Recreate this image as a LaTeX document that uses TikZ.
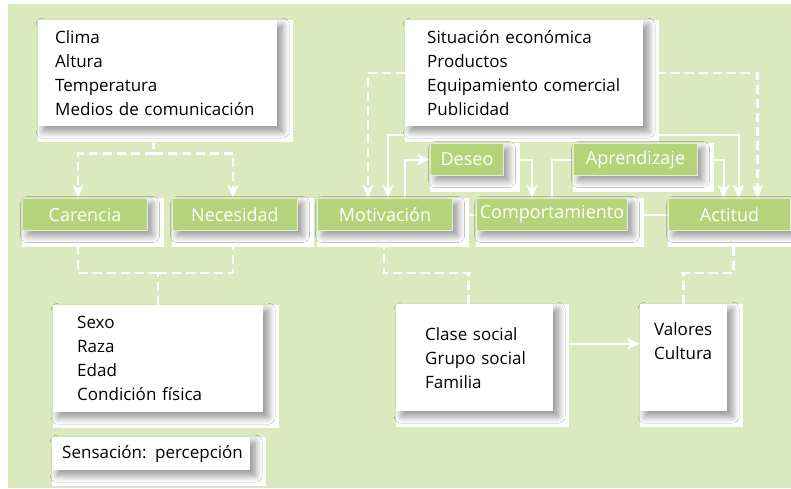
\documentclass[tikz,border=0pt]{standalone}
\usepackage{fontspec}
\setmainfont{Open Sans}
\usetikzlibrary{arrows.meta,shadows.blur}
\definecolor{bggreen}{RGB}{220,233,191}
\definecolor{boxgreen}{RGB}{181,212,122}
\definecolor{boxrim}{RGB}{228,239,208}
\pgfdeclarelayer{background}
\pgfdeclarelayer{lines}
\pgfsetlayers{background,lines,main}
\tikzset{
  softshadow/.style={blur shadow={shadow xshift=5pt, shadow yshift=-5pt, shadow blur radius=7pt, shadow blur steps=10, shadow opacity=45}},
  listbox/.style={fill=white, softshadow, anchor=north west, align=left, text width=#1, inner xsep=0pt, inner ysep=0pt, font=\fontsize{17}{24}\selectfont},
  indent/.style={execute at begin node={\leftskip=#1}},
  keybox/.style={fill=boxgreen, draw=boxrim, line width=1pt, text=white, softshadow, anchor=north west, minimum width=#1, minimum height=32pt, inner sep=0pt, font=\fontsize{18}{21}\selectfont},
  link/.style={white, line width=2pt},
  dashlink/.style={white, line width=2.5pt, dash pattern=on 9pt off 5pt},
  >={Stealth[length=13pt,width=11pt,inset=3.5pt]},
}

\begin{document}
\begin{tikzpicture}[x=1pt,y=-1pt]
\useasboundingbox (0,0) rectangle (791,488);
% Boxes:
\node[listbox=239pt, indent=17pt, minimum height=106pt] (clima) at (38,20) {Clima\\Altura\\Temperatura\\Medios de comunicación};
\node[listbox=238pt, indent=22pt, minimum height=106pt] (situacion) at (405,20) {Situación económica\\Productos\\Equipamiento comercial\\Publicidad};
\node[listbox=210pt, indent=24pt, minimum height=107pt] (sexo) at (53,305) {Sexo\\Raza\\Edad\\Condición física};
\node[listbox=198pt, indent=10pt, minimum height=33pt] (sensacion) at (52,437) {Sensación: percepción};
\node[listbox=157pt, indent=29pt, minimum height=107pt] (clase) at (396,304) {Clase social\\Grupo social\\Familia};
\node[listbox=87pt, indent=14pt, minimum height=107pt, text depth=58pt] (valores) at (640,304) {Valores\\Cultura};
\node[keybox=125pt] (carencia) at (22,198) {Carencia};
\node[keybox=125pt] (necesidad) at (172,198) {Necesidad};
\node[keybox=135pt] (motivacion) at (317,198) {Motivación};
\node[keybox=151pt] (comportamiento) at (476,198) {Comportamiento};
\node[keybox=122pt] (actitud) at (668,198) {Actitud};
\node[keybox=73pt] (deseo) at (430,143) {Deseo};
\node[keybox=124pt] (aprendizaje) at (573,143) {Aprendizaje};

\begin{pgfonlayer}{background}
\fill[bggreen] (8,4) rectangle (791,488);
\foreach \n in {clima,situacion,sexo,sensacion,clase,valores,carencia,necesidad,motivacion,comportamiento,actitud,deseo,aprendizaje}
  \fill[white] (\n.north west) rectangle ([xshift=16pt,yshift=-16pt]\n.south east);
\end{pgfonlayer}

\begin{pgfonlayer}{lines}
% Dashed links:
\coordinate (cj) at ([xshift=-4pt,yshift=-27pt]clima.south);
\draw[dashlink] ([xshift=-4pt]clima.south) -- (cj);
\draw[dashlink,->] (cj) -| ([xshift=-7pt]carencia.north);
\draw[dashlink,->] (cj) -| ([xshift=-2pt]necesidad.north);
\coordinate (sj) at ([yshift=32pt]sexo.north);
\draw[dashlink] (sexo.north) -- (sj);
\draw[dashlink,->] (sj) -| ([xshift=-7pt]carencia.south);
\draw[dashlink,->] (sj) -| ([xshift=-2pt]necesidad.south);
\draw[dashlink,->] ([xshift=-6pt]clase.north) -- ++(0,-31) -| ([xshift=-1pt]motivacion.south);
\draw[dashlink,->] (valores.north) -- ++(0,-31) -| ([xshift=4pt]actitud.south);
\draw[dashlink,->] (situacion.west) -| ([xshift=-17pt]motivacion.north);
\draw[dashlink,->] (situacion.east) -| ([xshift=28pt]actitud.north);
% Solid links:
\draw[link,->] ([yshift=-9pt]situacion.south west) -| ([xshift=3pt]motivacion.north);
\draw[link,->] ([yshift=-9pt]situacion.south east) -| ([xshift=9pt]actitud.north);
\draw[link,->] ([xshift=20pt]motivacion.north) |- (deseo.west);
\draw[link,->] (deseo.east) -| ([xshift=-20pt]comportamiento.north);
\draw[link] (comportamiento.north) |- (aprendizaje.west);
\draw[link,->] (aprendizaje.east) -| ([xshift=-6pt]actitud.north);
\draw[link] (motivacion.east) -- (comportamiento.west);
\draw[link] (comportamiento.east) -- (actitud.west);
\draw[link,->] ([yshift=14pt]clase.east) -- ([yshift=14pt]valores.west);
\end{pgfonlayer}
\end{tikzpicture}
\end{document}
